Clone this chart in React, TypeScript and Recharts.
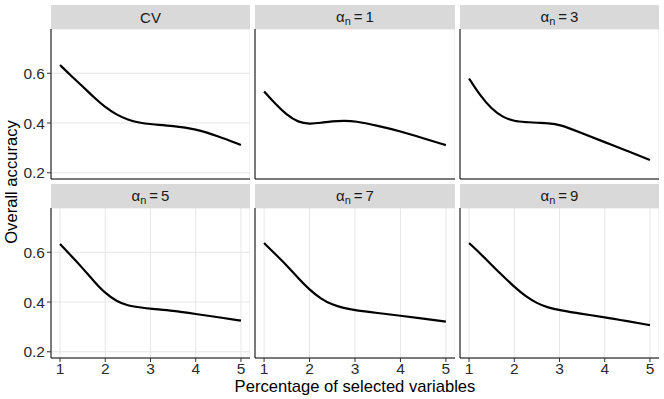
import { CartesianGrid, Line, LineChart, XAxis, YAxis } from "recharts";

const PCT = [1, 1.25, 1.5, 1.75, 2, 2.25, 2.5, 2.75, 3, 3.5, 4, 4.5, 5];

const CV = [0.633, 0.589, 0.547, 0.503, 0.463, 0.433, 0.413, 0.401, 0.395, 0.389, 0.376, 0.347, 0.312];
const A1 = [0.527, 0.476, 0.432, 0.403, 0.396, 0.401, 0.407, 0.409, 0.408, 0.389, 0.367, 0.339, 0.311];
const A3 = [0.579, 0.509, 0.456, 0.423, 0.407, 0.404, 0.401, 0.399, 0.395, 0.359, 0.323, 0.288, 0.251];
const A5 = [0.633, 0.585, 0.536, 0.483, 0.435, 0.403, 0.385, 0.379, 0.373, 0.365, 0.352, 0.339, 0.325];
const A7 = [0.637, 0.592, 0.547, 0.496, 0.449, 0.413, 0.389, 0.376, 0.367, 0.356, 0.345, 0.333, 0.321];
const A9 = [0.637, 0.595, 0.549, 0.504, 0.461, 0.423, 0.395, 0.377, 0.367, 0.352, 0.339, 0.323, 0.307];

const X_TICKS = [1, 2, 3, 4, 5];
const Y_TICKS = [0.2, 0.4, 0.6];

const PANELS = [
  { label: "CV", alpha: false, values: CV },
  { label: "1", alpha: true, values: A1 },
  { label: "3", alpha: true, values: A3 },
  { label: "5", alpha: true, values: A5 },
  { label: "7", alpha: true, values: A7 },
  { label: "9", alpha: true, values: A9 },
];

const FONT = '"Liberation Sans", Arial, Helvetica, sans-serif';
const COLS = [51, 255, 460];
const COL_W = [199, 200, 199];
const ROW_TOP = [29, 208];
const PLOT_H = 150;
const STRIP_H = 24;
const Y_AXIS_W = 51;
const X_AXIS_H = 22;

const TICK = { fill: "#2b2b2b", fontSize: 15.5, fontFamily: FONT };

function Panel({ idx }: { idx: number }) {
  const p = PANELS[idx];
  const row = Math.floor(idx / 3);
  const col = idx % 3;
  const leftCol = col === 0;
  const bottom = row === 1;
  const yw = leftCol ? Y_AXIS_W : 1;
  const data = PCT.map((x, i) => ({ x, y: p.values[i] }));
  const left = COLS[col];
  const top = ROW_TOP[row];
  return (
    <>
      <div style={{ position: "absolute", left: left - yw, top }}>
        <LineChart
          width={COL_W[col] + yw}
          height={PLOT_H + X_AXIS_H}
          data={data}
          margin={{ top: 0, right: 0, bottom: 0, left: 0 }}
        >
          <CartesianGrid stroke="#E6E6E6" strokeWidth={1} />
          <XAxis
            dataKey="x"
            type="number"
            domain={[0.8, 5.2]}
            ticks={X_TICKS}
            interval={0}
            height={X_AXIS_H}
            axisLine={{ stroke: "#000", strokeWidth: 1 }}
            tick={bottom ? TICK : false}
            tickLine={bottom ? { stroke: "#333" } : false}
            tickSize={4}
            tickMargin={1}
            allowDataOverflow
          />
          <YAxis
            type="number"
            domain={[0.175, 0.778]}
            ticks={Y_TICKS}
            interval={0}
            width={yw}
            axisLine={{ stroke: "#000", strokeWidth: 1 }}
            tick={leftCol ? TICK : false}
            tickLine={leftCol ? { stroke: "#333" } : false}
            tickSize={4}
            tickMargin={2}
            tickFormatter={(v: number) => v.toFixed(1)}
            allowDataOverflow
          />
          <Line
            dataKey="y"
            type="basis"
            stroke="#000"
            strokeWidth={2.2}
            dot={false}
            isAnimationActive={false}
          />
        </LineChart>
      </div>
      <div
        style={{
          position: "absolute", left, top: top - STRIP_H, width: COL_W[col], height: STRIP_H,
          background: "#D9D9D9", color: "#1A1A1A", fontFamily: FONT, fontSize: 15,
          display: "flex", alignItems: "center", justifyContent: "center",
        }}
      >
        {p.alpha ? (
          <span>
            α<sub style={{ fontSize: 11, verticalAlign: "-3px" }}>n</sub>
            <span style={{ margin: "0 3px" }}>=</span>
            {p.label}
          </span>
        ) : (
          p.label
        )}
      </div>
    </>
  );
}

export default function App() {
  return (
    <div
      style={{
        position: "fixed", left: 0, top: 0, width: 664, height: 399,
        background: "#fff", overflow: "hidden",
      }}
    >
      {PANELS.map((_, i) => (
        <Panel key={i} idx={i} />
      ))}
      <div
        style={{
          position: "absolute", left: 51, width: 608, top: 377, textAlign: "center",
          fontFamily: FONT, fontSize: 16.6, color: "#000",
        }}
      >
        Percentage of selected variables
      </div>
      <div
        style={{
          position: "absolute", left: 12, top: 182, width: 0, height: 0,
        }}
      >
        <div
          style={{
            position: "absolute", left: -100, top: -10, width: 200, height: 20, lineHeight: "20px",
            textAlign: "center", transform: "rotate(-90deg)",
            fontFamily: FONT, fontSize: 16.6, color: "#000", whiteSpace: "nowrap",
          }}
        >
          Overall accuracy
        </div>
      </div>
    </div>
  );
}
